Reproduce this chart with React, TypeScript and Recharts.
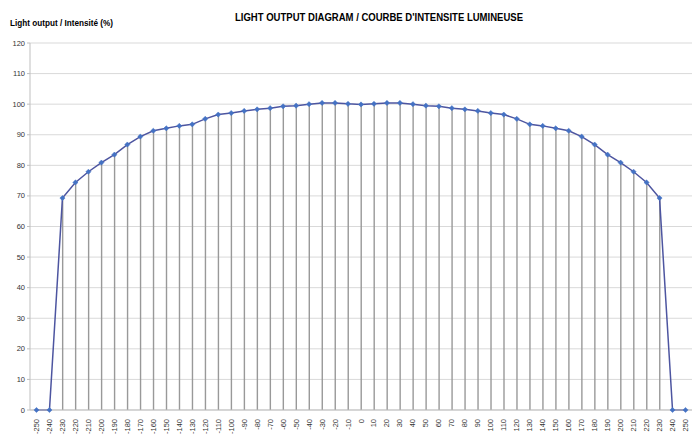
import React from 'react';
import { ComposedChart, Line, Bar, XAxis, YAxis, CartesianGrid } from 'recharts';

const angles = [-250, -240, -230, -220, -210, -200, -190, -180, -170, -160, -150, -140, -130, -120, -110, -100, -90, -80, -70, -60, -50, -40, -30, -20, -10, 0, 10, 20, 30, 40, 50, 60, 70, 80, 90, 100, 110, 120, 130, 140, 150, 160, 170, 180, 190, 200, 210, 220, 230, 240, 250];
const intensity = [0, 0, 69.3, 74.4, 77.9, 80.9, 83.5, 86.8, 89.4, 91.3, 92.1, 92.9, 93.4, 95.2, 96.6, 97.1, 97.8, 98.3, 98.7, 99.3, 99.5, 100.0, 100.4, 100.4, 100.1, 99.9, 100.1, 100.4, 100.4, 100.0, 99.5, 99.3, 98.7, 98.3, 97.8, 97.1, 96.6, 95.2, 93.4, 92.9, 92.1, 91.3, 89.4, 86.8, 83.5, 80.9, 77.9, 74.4, 69.3, 0, 0];
const yTicks = [0, 10, 20, 30, 40, 50, 60, 70, 80, 90, 100, 110, 120];

const data = angles.map((a, i) => ({ angle: String(a), value: intensity[i] }));

const FONT = '"Liberation Sans", Arial, sans-serif';

const Diamond = (props: any) => {
  const { cx, cy } = props;
  if (cx == null || cy == null) return null;
  const s = 2.6;
  return <path d={`M${cx},${cy - s}L${cx + s},${cy}L${cx},${cy + s}L${cx - s},${cy}Z`} fill="#4472C4" stroke="#4472C4" strokeWidth={0.5} />;
};

const XTick = (props: any) => {
  const { x, y, payload } = props;
  return (
    <g transform={`translate(${x},${y})`}>
      <text transform="rotate(-90)" x={0} y={0} dy={2.5} textAnchor="end" fontSize={7.5} fill="#333" fontFamily={FONT}>
        {payload.value}
      </text>
    </g>
  );
};

const YTick = (props: any) => {
  const { x, y, payload } = props;
  return (
    <text x={x} y={y} dy={2.5} textAnchor="end" fontSize={7.5} fill="#333" fontFamily={FONT}>
      {payload.value}
    </text>
  );
};

export default function App() {
  return (
    <div style={{ position: 'fixed', left: 0, top: 0, width: 700, height: 443, background: '#fff' }}>
      <ComposedChart width={700} height={443} data={data} margin={{ top: 43, right: 8, left: 0, bottom: 0 }} barCategoryGap={0} barGap={0}>
        <CartesianGrid vertical={false} stroke="#d9d9d9" strokeWidth={1} />
        <XAxis dataKey="angle" interval={0} height={33} tick={<XTick />} tickLine={false} axisLine={{ stroke: '#bfbfbf' }} tickMargin={3} />
        <YAxis domain={[0, 120]} ticks={yTicks} width={30} tick={<YTick />} tickLine={{ stroke: '#bfbfbf' }} tickSize={3} axisLine={{ stroke: '#bfbfbf' }} tickMargin={2} interval={0} />
        <Bar dataKey="value" barSize={1.4} fill="#999999" isAnimationActive={false} />
        <Line dataKey="value" stroke="#4D55A0" strokeWidth={1.5} dot={<Diamond />} activeDot={false} isAnimationActive={false} type="linear" />
      </ComposedChart>
      <svg width={700} height={40} style={{ position: 'absolute', left: 0, top: 0 }}>
        <text x={235} y={21} fontSize={11} fontWeight="bold" fill="#000" fontFamily={FONT} textLength={288} lengthAdjust="spacingAndGlyphs">
          LIGHT OUTPUT DIAGRAM / COURBE D'INTENSITE LUMINEUSE
        </text>
        <text x={10} y={26} fontSize={8.5} fontWeight="bold" fill="#000" fontFamily={FONT} textLength={103} lengthAdjust="spacingAndGlyphs">
          Light output / Intensité (%)
        </text>
      </svg>
    </div>
  );
}
